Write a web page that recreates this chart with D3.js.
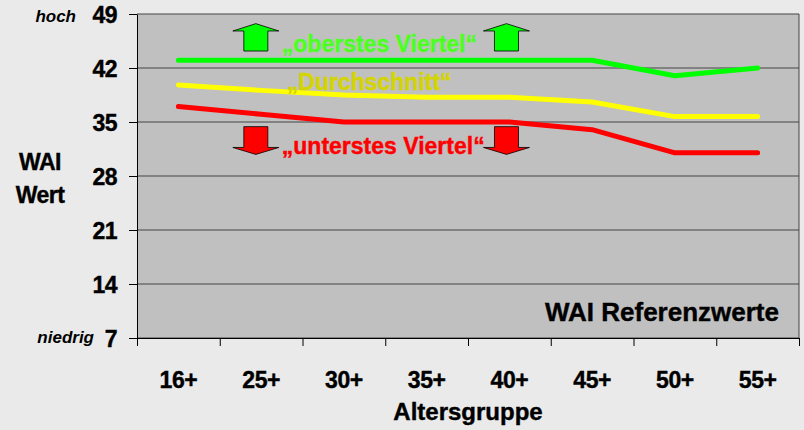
<!DOCTYPE html>
<html>
<head>
<meta charset="utf-8">
<script src="https://cdn.jsdelivr.net/npm/d3@7"></script>
<style>
  body { margin: 0; background: #eaeaea; }
  svg { display: block; font-family: Arial, "Liberation Sans", sans-serif; }
  .tick-lbl { font-weight: bold; font-size: 23px; fill: #000; letter-spacing: -0.5px; }
  .heavy { stroke: #000; stroke-width: 0.4px; }
</style>
</head>
<body>
<div id="chart"></div>
<script>
// age groups and WAI reference values
const groups = ['16+', '25+', '30+', '35+', '40+', '45+', '50+', '55+'];
const topQuarter = [43, 43, 43, 43, 43, 43, 41, 42];
const average = [39.8, 39.1, 38.5, 38.2, 38.2, 37.6, 35.7, 35.7];
const bottomQuarter = [37, 36, 35, 35, 35, 34, 31, 31];
const yTicks = [7, 14, 21, 28, 35, 42, 49];

const W = 804, H = 430;
const margin = {top: 14, right: 5, bottom: 92, left: 137};
const width = W - margin.left - margin.right;
const height = H - margin.top - margin.bottom;

const svg = d3.select('#chart').append('svg')
    .attr('width', W)
    .attr('height', H);

const x = d3.scaleBand().domain(groups).range([0, width]).padding(0);
// band-unit scale for annotations (arrows, labels)
const xu = d3.scaleLinear().domain([0, groups.length]).range([0, width]);
const y = d3.scaleLinear().domain([7, 49]).range([height, 0]);

const chart = svg.append('g')
    .attr('transform', `translate(${margin.left},${margin.top})`);

chart.append('rect')
    .attr('width', width)
    .attr('height', height)
    .attr('fill', '#c0c0c0');

// gridlines
chart.append('g')
    .selectAll('line')
    .data(yTicks)
    .join('line')
    .attr('x1', 0).attr('x2', width)
    .attr('y1', d => y(d)).attr('y2', d => y(d))
    .attr('stroke', '#444')
    .attr('stroke-width', 1);

chart.append('line')
    .attr('x1', width).attr('x2', width)
    .attr('y1', 0).attr('y2', height)
    .attr('stroke', '#444');

// y axis
const yAxis = d3.axisLeft(y).tickValues(yTicks).tickSize(8).tickSizeOuter(0).tickPadding(12);
const yAxisG = chart.append('g').call(yAxis);
yAxisG.select('.domain').attr('stroke', '#000');
yAxisG.selectAll('.tick line').attr('stroke', '#000');
yAxisG.selectAll('.tick text').attr('class', 'tick-lbl heavy').attr('font-size', null).attr('font-family', null)
    .attr('dy', '0.36em');

// x axis
const xAxis = d3.axisBottom(xu).tickValues(d3.range(groups.length + 1)).tickSize(8).tickSizeOuter(0).tickFormat('');
const xAxisG = chart.append('g').attr('transform', `translate(0,${height})`).call(xAxis);
xAxisG.select('.domain').attr('stroke', '#000');
xAxisG.selectAll('.tick line').attr('stroke', '#000');

chart.append('g')
    .selectAll('text')
    .data(groups)
    .join('text')
    .attr('class', 'tick-lbl heavy')
    .attr('x', d => x(d) + x.bandwidth() / 2)
    .attr('y', height + 50)
    .attr('text-anchor', 'middle')
    .text(d => d);

// axis titles
svg.append('text')
    .attr('class', 'heavy')
    .attr('x', 468).attr('y', 420)
    .attr('text-anchor', 'middle')
    .attr('font-weight', 'bold').attr('font-size', 24)
    .text('Altersgruppe');

const yTitle = svg.append('text')
    .attr('class', 'heavy')
    .attr('text-anchor', 'middle')
    .attr('font-weight', 'bold').attr('font-size', 23)
    .attr('letter-spacing', -0.5);
yTitle.append('tspan').attr('x', 40).attr('y', 170).text('WAI');
yTitle.append('tspan').attr('x', 40).attr('y', 203).text('Wert');

svg.append('text')
    .attr('x', 76).attr('y', 22)
    .attr('text-anchor', 'end')
    .attr('font-weight', 'bold').attr('font-style', 'italic').attr('font-size', 17)
    .text('hoch');

svg.append('text')
    .attr('x', 94).attr('y', 343)
    .attr('text-anchor', 'end')
    .attr('font-weight', 'bold').attr('font-style', 'italic').attr('font-size', 17)
    .text('niedrig');

// lines
const line = d3.line()
    .x((d, i) => x(groups[i]) + x.bandwidth() / 2)
    .y(d => y(d));

const series = [
  {values: bottomQuarter, color: '#ff0000'},
  {values: average, color: '#ffff00'},
  {values: topQuarter, color: '#00ff00'}
];

chart.selectAll('.series')
    .data(series)
    .join('path')
    .attr('class', 'series')
    .attr('d', d => line(d.values))
    .attr('fill', 'none')
    .attr('stroke', d => d.color)
    .attr('stroke-width', 5)
    .attr('stroke-linecap', 'round')
    .attr('stroke-linejoin', 'round');

// arrows: up arrows above top quarter, down arrows below bottom quarter
const arrowPos = [1.436, 4.465];
function arrowPath(cx, yTip, yBase, yEnd) {
  const hw = 23, sw = 12;
  return `M${cx},${yTip} L${cx + hw},${yBase} L${cx + sw},${yBase} L${cx + sw},${yEnd}` +
         ` L${cx - sw},${yEnd} L${cx - sw},${yBase} L${cx - hw},${yBase} Z`;
}
chart.selectAll('.up')
    .data(arrowPos)
    .join('path')
    .attr('class', 'up')
    .attr('d', d => arrowPath(xu(d), y(47.75), y(46.8), y(44.2)))
    .attr('fill', '#00ff00')
    .attr('stroke', '#000')
    .attr('stroke-width', 0.8);

chart.selectAll('.down')
    .data(arrowPos)
    .join('path')
    .attr('class', 'down')
    .attr('d', d => arrowPath(xu(d), y(30.8), y(31.7), y(34.4)))
    .attr('fill', '#ff0000')
    .attr('stroke', '#000')
    .attr('stroke-width', 0.8);

// series labels
const labels = [
  {text: '„oberstes Viertel“', pos: 1.75, value: 44.1, color: '#4cff1f'},
  {text: '„Durchschnitt“', pos: 1.81, value: 39.2, color: '#d4d400'},
  {text: '„unterstes Viertel“', pos: 1.75, value: 30.9, color: '#ff0000'}
];
chart.selectAll('.series-lbl')
    .data(labels)
    .join('text')
    .attr('class', 'series-lbl')
    .attr('x', d => xu(d.pos)).attr('y', d => y(d.value))
    .attr('font-weight', 'bold').attr('font-size', 23)
    .attr('fill', d => d.color)
    .attr('stroke', d => d.color)
    .attr('stroke-width', 0.4)
    .text(d => d.text);

chart.append('text')
    .attr('class', 'heavy')
    .attr('x', width - 20).attr('y', height - 17)
    .attr('text-anchor', 'end')
    .attr('font-weight', 'bold').attr('font-size', 26)
    .text('WAI Referenzwerte');
</script>
</body>
</html>
